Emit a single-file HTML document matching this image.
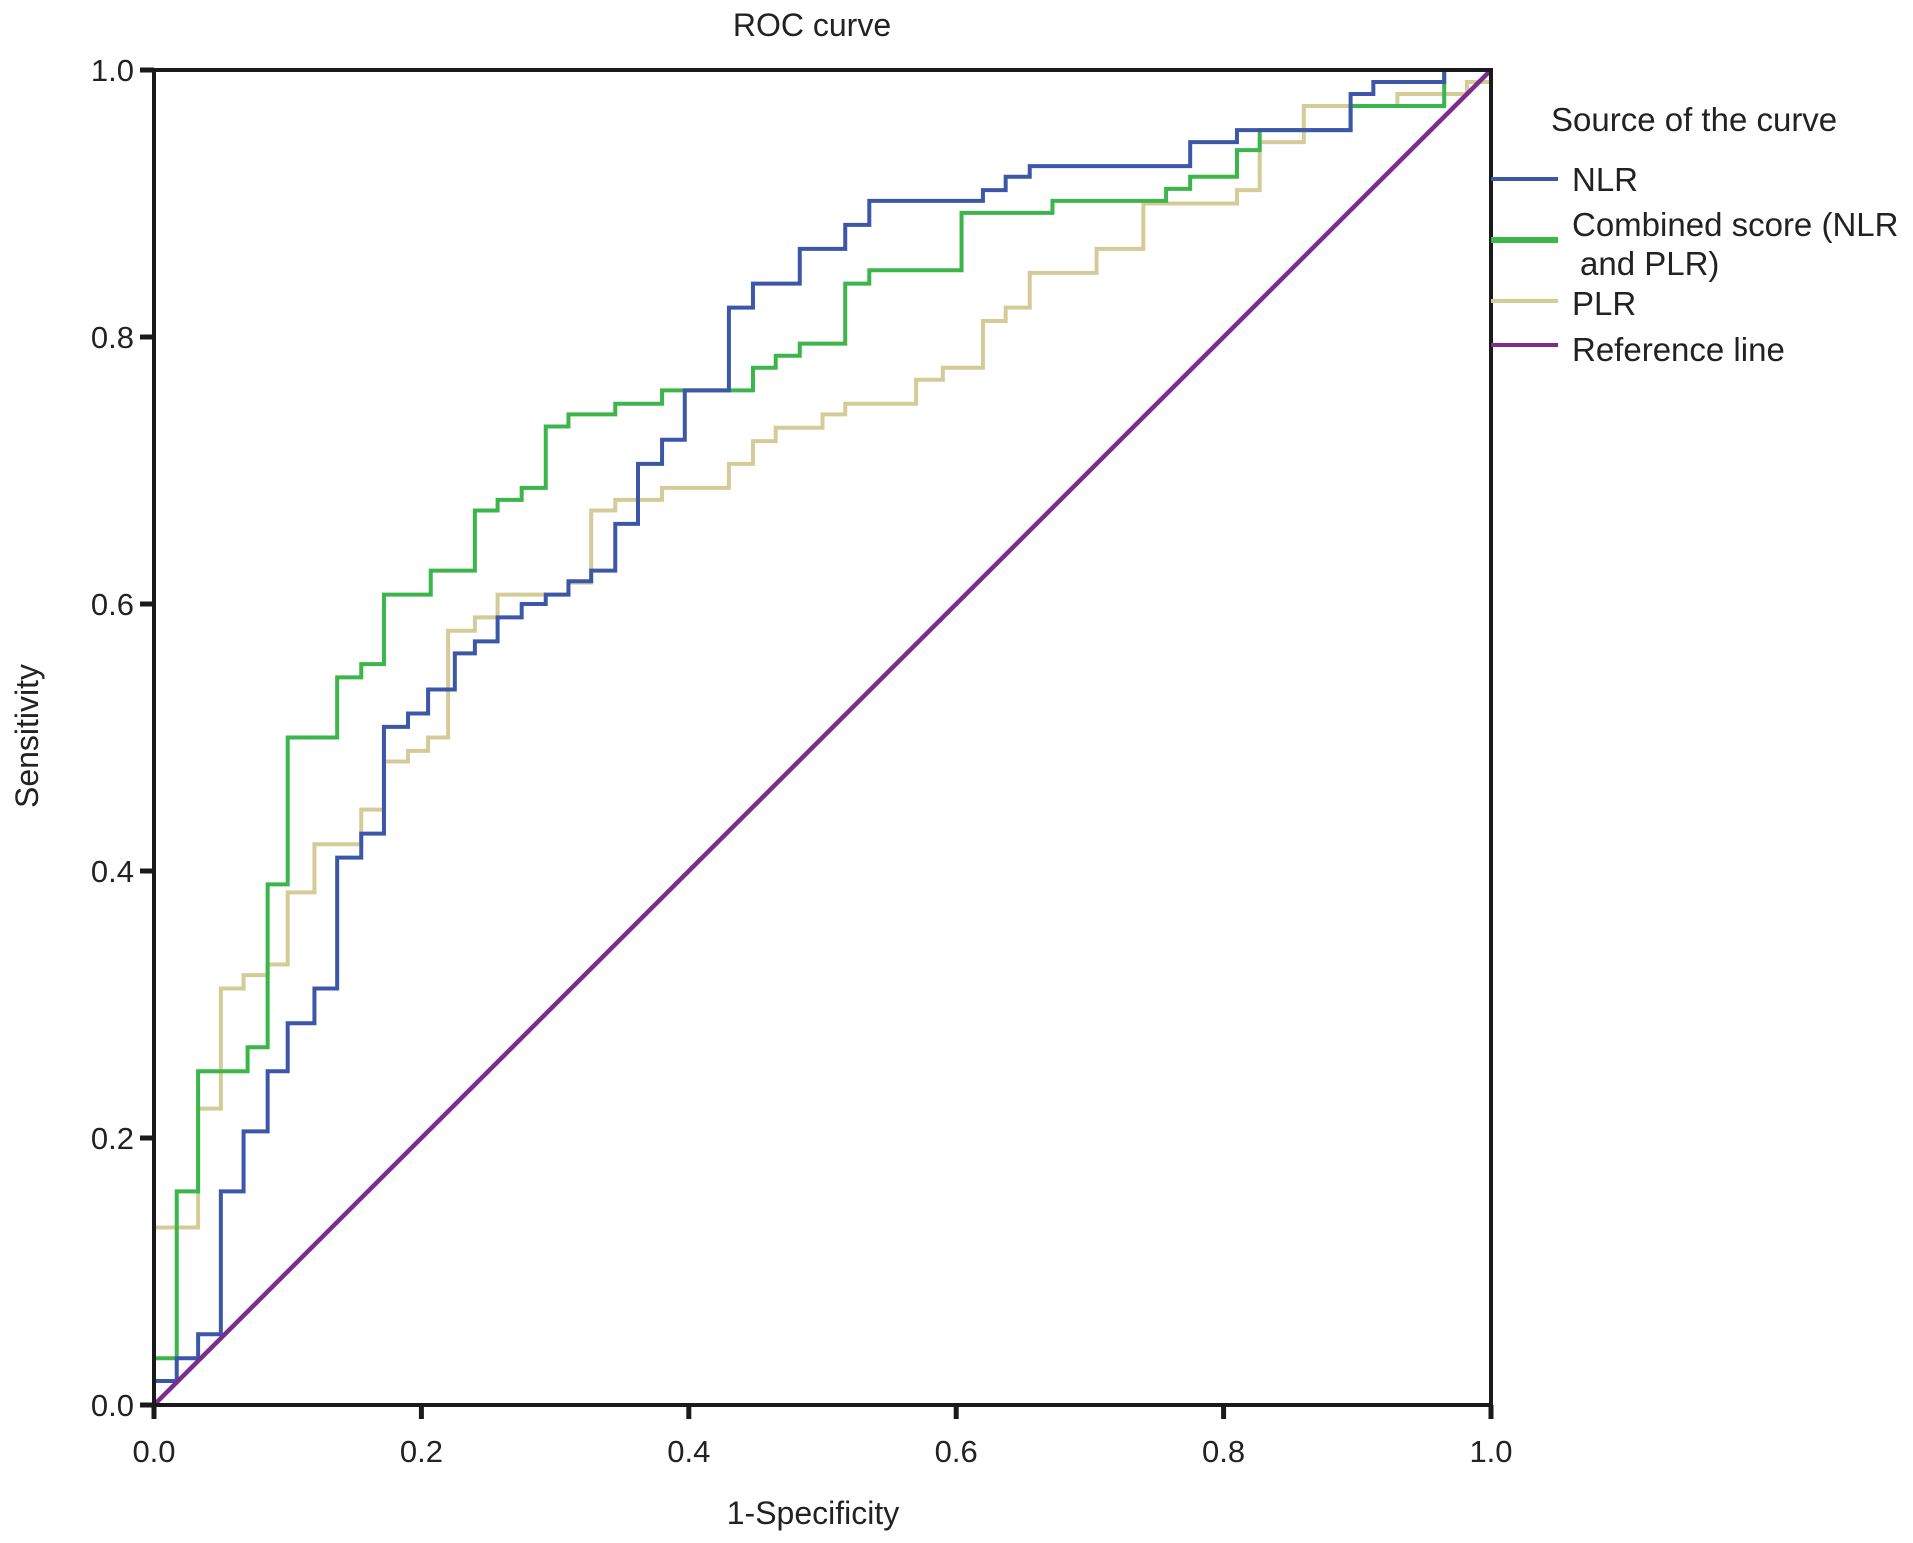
<!DOCTYPE html>
<html><head><meta charset="utf-8"><style>
body{margin:0;background:#fff;}
svg{display:block;font-family:"Liberation Sans",Arial,sans-serif;}
</style></head><body>
<svg id="chart" width="1913" height="1543" viewBox="0 0 1913 1543">
<text x="812" y="36" font-size="32" text-anchor="middle" fill="#222">ROC curve</text>
<g id="curves"></g>
<rect x="154" y="70" width="1337" height="1335" fill="none" stroke="#1a1a1a" stroke-width="4"/>
<g id="axes"></g>
<text x="813" y="1524" font-size="32" text-anchor="middle" fill="#222">1-Specificity</text>
<text x="0" y="0" font-size="32" text-anchor="middle" fill="#222" transform="translate(38,736) rotate(-90)">Sensitivity</text>
<g>
<text x="1551" y="131" font-size="33" fill="#222">Source of the curve</text>
<line x1="1491" y1="179" x2="1558" y2="179" stroke="#3d57a8" stroke-width="4"/>
<text x="1572" y="191" font-size="33" fill="#222">NLR</text>
<line x1="1491" y1="240" x2="1558" y2="240" stroke="#3cb54a" stroke-width="6"/>
<text x="1572" y="236" font-size="33" fill="#222">Combined score (NLR</text>
<text x="1580" y="275" font-size="33" fill="#222">and PLR)</text>
<line x1="1491" y1="301" x2="1558" y2="301" stroke="#d4cb98" stroke-width="4"/>
<text x="1572" y="315" font-size="33" fill="#222">PLR</text>
<line x1="1491" y1="345" x2="1558" y2="345" stroke="#7b2d8e" stroke-width="4"/>
<text x="1572" y="361" font-size="33" fill="#222">Reference line</text>
</g>
</svg>
<script>
const ticks=[0,0.2,0.4,0.6,0.8,1.0];
const tickLabels=["0.0","0.2","0.4","0.6","0.8","1.0"];
const nlrX=[0,0.017,0.033,0.05,0.067,0.085,0.10,0.12,0.137,0.155,0.172,0.19,0.205,0.225,0.24,0.257,0.275,0.293,0.31,0.327,0.345,0.362,0.38,0.397,0.43,0.448,0.483,0.517,0.535,0.62,0.637,0.655,0.775,0.81,0.895,0.912,0.965,1.0];
const nlrY=[0.018,0.035,0.053,0.16,0.205,0.25,0.286,0.312,0.41,0.428,0.508,0.518,0.536,0.563,0.572,0.59,0.6,0.607,0.617,0.625,0.66,0.705,0.723,0.76,0.822,0.84,0.866,0.884,0.902,0.91,0.92,0.928,0.946,0.955,0.982,0.991,1.0,1.0];
const combX=[0,0.017,0.033,0.07,0.085,0.10,0.137,0.155,0.172,0.207,0.24,0.257,0.275,0.293,0.31,0.345,0.38,0.448,0.465,0.483,0.517,0.535,0.604,0.672,0.757,0.775,0.81,0.827,0.895,0.965,1.0];
const combY=[0.035,0.16,0.25,0.268,0.39,0.5,0.545,0.555,0.607,0.625,0.67,0.678,0.687,0.733,0.742,0.75,0.76,0.777,0.786,0.795,0.84,0.85,0.893,0.902,0.911,0.92,0.94,0.955,0.973,1.0,1.0];
const plrX=[0,0.033,0.05,0.067,0.085,0.10,0.12,0.155,0.172,0.19,0.205,0.22,0.24,0.257,0.31,0.327,0.345,0.38,0.43,0.448,0.465,0.5,0.517,0.57,0.59,0.62,0.637,0.655,0.705,0.74,0.81,0.827,0.86,0.93,0.982,1.0];
const plrY=[0.133,0.222,0.312,0.322,0.33,0.384,0.42,0.446,0.482,0.49,0.5,0.58,0.59,0.607,0.616,0.67,0.678,0.687,0.705,0.722,0.732,0.742,0.75,0.768,0.777,0.812,0.822,0.848,0.866,0.9,0.91,0.946,0.973,0.982,0.991,1.0];
const refX=[0,1];
const refY=[0,1];
const L=154,T=70,W=1337,H=1335;
const sx=v=>L+v*W, sy=v=>T+H-v*H;
const NS="http://www.w3.org/2000/svg";
const curves=document.getElementById('curves'), axes=document.getElementById('axes');
function stepPath(xs,ys){
  let d="M"+sx(0)+","+sy(0)+" L"+sx(xs[0])+","+sy(ys[0]);
  for(let i=1;i<xs.length;i++){d+=" L"+sx(xs[i])+","+sy(ys[i-1])+" L"+sx(xs[i])+","+sy(ys[i]);}
  return d;
}
function addPath(d,color,w,name){
  const p=document.createElementNS(NS,'path');
  p.setAttribute('d',d);p.setAttribute('fill','none');p.setAttribute('stroke',color);p.setAttribute('stroke-width',w);
  
  
  curves.appendChild(p);
}
addPath(stepPath(plrX,plrY),'#d4cb98',4,'plr-curve');
addPath(stepPath(combX,combY),'#3cb54a',4,'combined-curve');
addPath(stepPath(nlrX,nlrY),'#3d57a8',4,'nlr-curve');
addPath("M"+sx(refX[0])+","+sy(refY[0])+" L"+sx(refX[1])+","+sy(refY[1]),'#7b2d8e',4.5,'reference-line');
ticks.forEach((t,i)=>{
  const a=document.createElementNS(NS,'line');
  a.setAttribute('x1',sx(t));a.setAttribute('x2',sx(t));a.setAttribute('y1',T+H);a.setAttribute('y2',T+H+14);
  a.setAttribute('stroke','#1a1a1a');a.setAttribute('stroke-width',5);
  
  
  axes.appendChild(a);
  const b=document.createElementNS(NS,'line');
  b.setAttribute('x1',L-14);b.setAttribute('x2',L);b.setAttribute('y1',sy(t));b.setAttribute('y2',sy(t));
  b.setAttribute('stroke','#1a1a1a');b.setAttribute('stroke-width',5);
  
  
  axes.appendChild(b);
  const tx=document.createElementNS(NS,'text');
  tx.setAttribute('x',sx(t));tx.setAttribute('y',T+H+57);tx.setAttribute('font-size','31');tx.setAttribute('text-anchor','middle');tx.setAttribute('fill','#222');
  tx.textContent=tickLabels[i];
  
  
  axes.appendChild(tx);
  const ty=document.createElementNS(NS,'text');
  ty.setAttribute('x',L-20);ty.setAttribute('y',sy(t)+11);ty.setAttribute('font-size','31');ty.setAttribute('text-anchor','end');ty.setAttribute('fill','#222');
  ty.textContent=tickLabels[i];
  
  
  axes.appendChild(ty);
});
</script>
</body></html>
